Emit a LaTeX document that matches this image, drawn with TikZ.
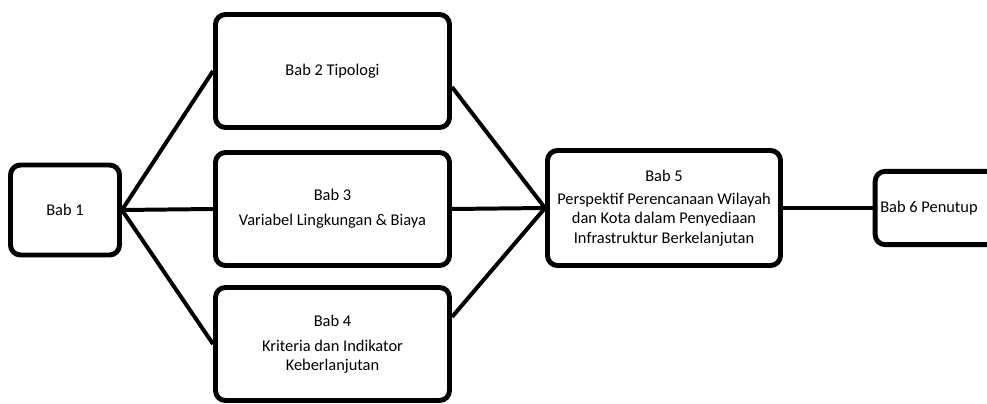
\documentclass[tikz,border=0pt]{standalone}
\usepackage{fontspec}
\setmainfont{Carlito}
\usepackage{tikz}
\usetikzlibrary{arrows.meta, positioning, calc}

\begin{document}
\begin{tikzpicture}[
  x=0.03cm, y=-0.03cm,
  bab/.style={draw, line width=4.2pt, rounded corners=0.3cm, fill=white, align=center, inner sep=2pt,
    font=\fontsize{14}{16.5}\selectfont, minimum width=#1},
  link/.style={line width=3.4pt}
]
\useasboundingbox (0,0) rectangle (987,404);

\node[bab=3.27cm, minimum height=2.7cm] (bab1) at (65, 210) {Bab 1};
\node[bab=7.02cm, minimum height=3.39cm] (bab2) at (332.5, 71) {Bab 2 Tipologi};
\node[bab=7.02cm, minimum height=3.39cm] (bab3) at (332.5, 209) {Bab 3\\[5pt]Variabel Lingkungan \& Biaya};
\node[bab=7.02cm, minimum height=3.39cm] (bab4) at (332.5, 344) {Bab 4\\[5pt]Kriteria dan Indikator\\Keberlanjutan};
\node[bab=6.99cm, minimum height=3.45cm] (bab5) at (664, 208) {Bab 5\\[3pt]Perspektif Perencanaan Wilayah\\dan Kota dalam Penyediaan\\Infrastruktur Berkelanjutan};
\node[bab=3.65cm, minimum height=2.2cm] (bab6) at (936, 208) {Bab 6 Penutup\hspace*{0.42cm}};

\draw[link] (bab1.east) -- (bab2.west);
\draw[link] (bab1.east) -- (bab3.west);
\draw[link] (bab1.east) -- (bab4.west);
\draw[link] ([yshift=-0.48cm]bab2.east) -- (bab5.west);
\draw[link] (bab3.east) -- (bab5.west);
\draw[link] ([yshift=0.81cm]bab4.east) -- (bab5.west);
\draw[link] (bab5.east) -- (bab6.west);

\end{tikzpicture}
\end{document}
